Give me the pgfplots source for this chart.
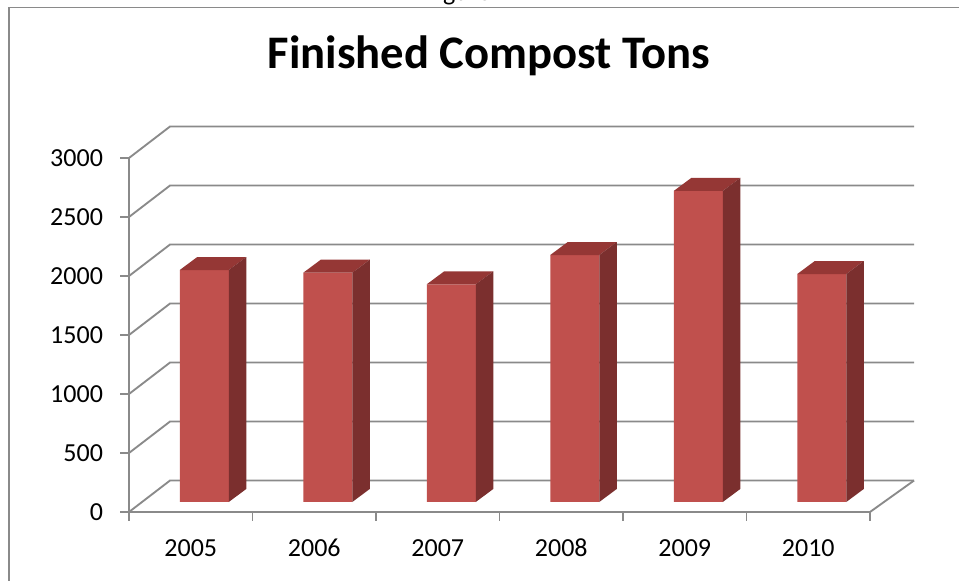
\documentclass[border=0pt]{standalone}
\usepackage{fontspec}
\setmainfont{Carlito}
\usepackage{pgfplots}
\pgfplotsset{compat=1.18}
\usepackage{pgfplotstable}

\definecolor{barfront}{HTML}{C0504D}
\definecolor{bartop}{HTML}{953735}
\definecolor{barside}{HTML}{7B2F2E}
\definecolor{wallgray}{HTML}{8A8A8A}

% Finished compost, tons per year
\pgfplotstableread{
idx year tons
0 2005 1966
1 2006 1943
2 2007 1845
3 2008 2093
4 2009 2636
5 2010 1932
}\compost

% Top and right side of each column; \tons is the column value
\pgfdeclareplotmark{columnfaces}{%
  \pgfmathsetlengthmacro\colh{\tons*0.0885pt}%
  \pgfsetfillcolor{bartop}%
  \pgfpathmoveto{\pgfqpoint{-18.375pt}{0pt}}%
  \pgfpathlineto{\pgfqpoint{18.375pt}{0pt}}%
  \pgfpathlineto{\pgfqpoint{31.5pt}{9.75pt}}%
  \pgfpathlineto{\pgfqpoint{-5.25pt}{9.75pt}}%
  \pgfpathclose
  \pgfusepath{fill}%
  \pgfsetfillcolor{barside}%
  \pgfpathmoveto{\pgfqpoint{18.375pt}{0pt}}%
  \pgfpathlineto{\pgfqpoint{31.5pt}{9.75pt}}%
  \pgfpathlineto{\pgfpoint{31.5pt}{9.75pt-\colh}}%
  \pgfpathlineto{\pgfpoint{18.375pt}{-\colh}}%
  \pgfpathclose
  \pgfusepath{fill}%
}

\begin{document}
\begin{tikzpicture}
\useasboundingbox (0,0) rectangle (719.25pt,435.75pt);
\clip (0,0) rectangle (719.25pt,435.75pt);

% caption line above the chart frame
\node[font=\fontsize{19.5}{23}\selectfont, anchor=base west, inner sep=0pt]
  at ({425*0.75pt},{(581-0.5)*0.75pt}) {Figure};

% chart frame
\draw[wallgray, line width=1.3pt]
  ({9*0.75pt},-2pt) -- ({9*0.75pt},{(581-7.5)*0.75pt}) -- (725pt,{(581-7.5)*0.75pt});

% title
\node[font=\fontsize{35}{42}\selectfont\bfseries, anchor=base]
  at ({489*0.75pt},{(581-69)*0.75pt}) {Finished Compost Tons};

% front plane: axes, ticks, walls and floor
\begin{axis}[
  at={(96.75pt,51.75pt)}, anchor=south west,
  scale only axis, width=555.75pt, height=265.5pt,
  xmin=-0.5, xmax=5.5, ymin=0, ymax=3000,
  axis x line*=bottom, axis y line*=left,
  axis line style={-, wallgray, line width=1.4pt},
  xtick={-0.5,0.5,...,5.5},
  xticklabels={2005,2006,2007,2008,2009,2010},
  x tick label as interval,
  ytick={0,500,...,3000},
  scaled y ticks=false,
  tick align=outside,
  major tick length=6.5pt,
  tick style={wallgray, line width=1.4pt},
  tick label style={font=\fontsize{19.5}{23}\selectfont},
  yticklabel style={xshift=-9.5pt},
  xticklabel style={anchor=base, yshift=-26.5pt},
  /pgf/number format/assume math mode=true,
  /pgf/number format/1000 sep={},
  clip=false,
]
\pgfplotsinvokeforeach{0,500,...,3000}{
  \draw[wallgray, line width=1.4pt]
    (axis cs:-0.5,#1) -- ([xshift=30.75pt,yshift=23.6pt]axis cs:-0.5,#1)
    -- ([xshift=33pt,yshift=23.6pt]axis cs:5.5,#1);
}
\draw[wallgray, line width=1.4pt] (axis cs:5.5,0) -- ([xshift=33pt,yshift=23.6pt]axis cs:5.5,0);
\end{axis}

% column plane, set back from the front plane
\begin{axis}[
  at={(106.875pt,59.25pt)}, anchor=south west,
  scale only axis, width=555.75pt, height=265.5pt,
  xmin=-0.5, xmax=5.5, ymin=0, ymax=3000,
  axis lines=none, clip=false,
]
\addplot[ybar, bar width=36.75pt, fill=barfront, draw=none]
  table[x=idx, y=tons] {\compost};
\addplot[only marks, mark=columnfaces,
  visualization depends on={rawy \as \tons}]
  table[x=idx, y=tons] {\compost};
\end{axis}
\end{tikzpicture}
\end{document}
